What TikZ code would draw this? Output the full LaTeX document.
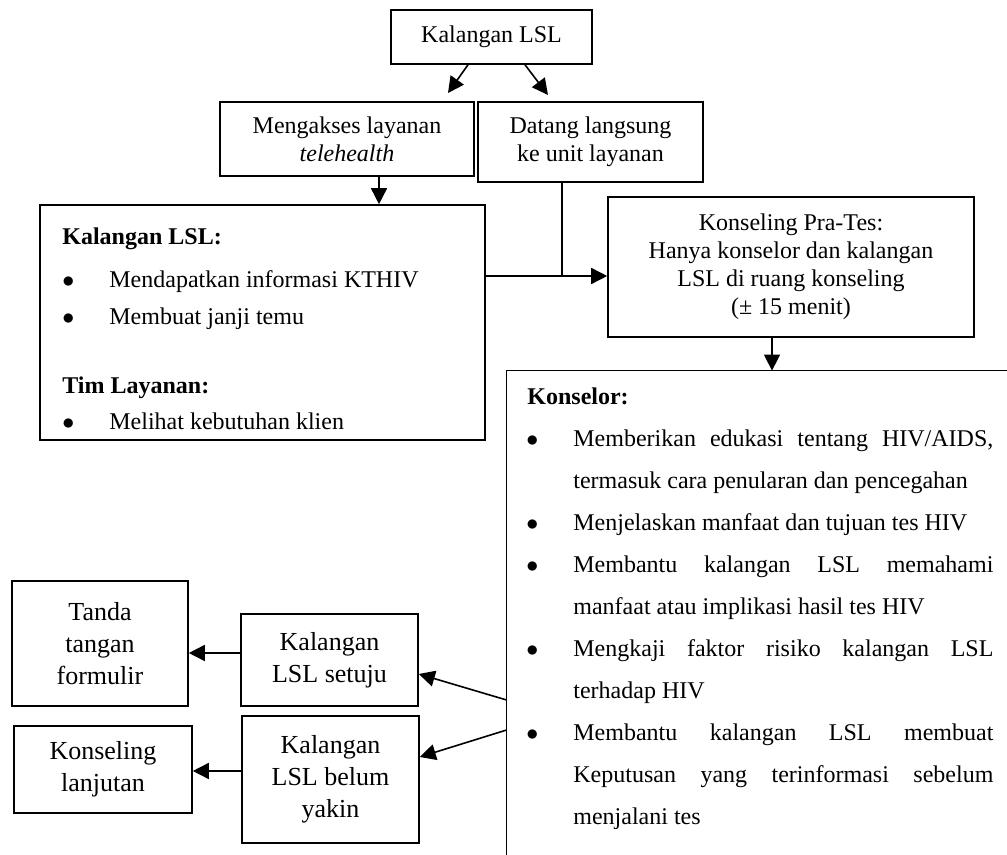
\documentclass[tikz,border=0pt]{standalone}
\usepackage{fontspec}
\setmainfont{Liberation Serif}
\usetikzlibrary{arrows.meta,calc}
\newcommand{\kb}{\leavevmode\llap{$\bullet$\hspace{17.5pt}}}
\begin{document}
\begin{tikzpicture}[x=0.5pt,y=-0.5pt,
  every node/.append style={font=\fontsize{12}{14}\selectfont},
  box/.style={draw, line width=0.8pt, inner sep=0pt, align=center, font=\fontsize{12}{14}\selectfont},
  sbox/.style={box, font=\fontsize{13}{16}\selectfont},
  arr/.style={line width=0.8pt, -{Triangle[length=8pt,width=8pt]}},
  ln/.style={line width=0.8pt},
  txt/.style={anchor=base west, inner sep=0pt}]
\useasboundingbox (0,0) rectangle (1007,855);
\fill[white] (0,0) rectangle (1007,855);

% boxes
\node[box, minimum width=100.5pt, minimum height=27pt] (top) at (491.5,37) {Kalangan LSL};
\node[box, minimum width=127pt, minimum height=37pt] (meng) at (347,139) {Mengakses layanan\\\textit{telehealth}};
\node[box, minimum width=112.5pt, minimum height=40pt] (datang) at (590.5,142) {Datang langsung\\ke unit layanan};
\node[box, minimum width=222.5pt, minimum height=117.5pt] (lbox) at (262.5,322.5) {};
\node[box, minimum width=183pt, minimum height=70pt] (pra) at (791,267) {Konseling Pra-Tes:\\Hanya konselor dan kalangan\\LSL di ruang konseling\\(± 15 menit)};
\node[inner sep=0pt, minimum width=250pt, minimum height=242pt] (kons) at (757,613) {};
\draw[ln] (kons.north east) -- (kons.north west) -- (kons.south west);

\node[sbox, minimum width=88pt, minimum height=62.5pt] (tanda) at (100,643.5) {Tanda\\tangan\\formulir};
\node[sbox, minimum width=88.5pt, minimum height=46pt] (setuju) at (329.5,660) {Kalangan\\LSL setuju};
\node[sbox, minimum width=89pt, minimum height=43.5pt] (lanjut) at (103,769.5) {Konseling\\lanjutan};
\node[sbox, minimum width=88.5pt, minimum height=63.5pt] (belum) at (330.5,779.5) {Kalangan\\LSL belum\\yakin};

% left box text
\node[txt, font=\fontsize{12}{14}\selectfont\bfseries] (l1) at (62,245) {Kalangan LSL:};
\node[txt] (l2) at (109,288) {\kb Mendapatkan informasi KTHIV};
\node[txt] (l3) at (109,325) {\kb Membuat janji temu};
\node[txt, font=\fontsize{12}{14}\selectfont\bfseries] (l4) at (62,394) {Tim Layanan:};
\node[txt] (l5) at (109,430) {\kb Melihat kebutuhan klien};

% konselor text
\node[txt, text width=210pt, align=justify, font=\fontsize{12}{21}\selectfont] (ktext) at (573,405) {%
\frenchspacing\hyphenpenalty=10000 \tolerance=10000 \spaceskip=3pt plus 30pt minus 1pt
\hspace*{-23pt}\textbf{Konselor:}\par
\kb Memberikan edukasi tentang HIV/AIDS,\linebreak termasuk cara penularan dan pencegahan\par
\kb Menjelaskan manfaat dan tujuan tes HIV\par
\kb Membantu kalangan LSL memahami\linebreak manfaat atau implikasi hasil tes HIV\par
\kb Mengkaji faktor risiko kalangan LSL\linebreak terhadap HIV\par
\kb Membantu kalangan LSL membuat\linebreak Keputusan yang terinformasi sebelum\linebreak menjalani tes\par};

% connectors
\coordinate (a1) at (448,93);
\coordinate (a2) at (548,95);
\draw[arr] ([xshift=-11.75pt]top.south) -- (a1);
\draw[arr] ([xshift=16.75pt]top.south) -- (a2);
\draw[arr] ([xshift=16pt]meng.south) -- ([xshift=16pt]meng.south |- lbox.north);
\coordinate (j) at (562,276);
\draw[ln] (datang.south -| j) -- (j);
\draw[arr] (lbox.east |- j) -- (pra.west |- j);
\draw[arr] ([xshift=-9.5pt]pra.south) -- ([xshift=-9.5pt]pra.south |- kons.north);
\coordinate (k1) at (507,700);
\coordinate (k2) at (507,730);
\coordinate (t1) at (420,674);
\coordinate (t2) at (420,757);
\draw[arr] (kons.west |- k1) -- (setuju.east |- t1);
\draw[arr] (kons.west |- k2) -- (belum.east |- t2);
\draw[arr] ([yshift=3.5pt]setuju.west) -- ([yshift=3.5pt]setuju.west -| tanda.east);
\draw[arr] ([yshift=4.25pt]belum.west) -- ([yshift=4.25pt]belum.west -| lanjut.east);
\end{tikzpicture}
\end{document}
